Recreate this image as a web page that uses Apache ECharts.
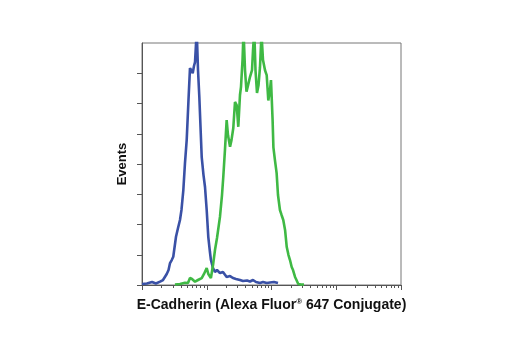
<!DOCTYPE html>
<html>
<head>
<meta charset="utf-8">
<script src="https://cdn.jsdelivr.net/npm/echarts@6/dist/echarts.min.js"></script>
<style>html,body{margin:0;padding:0;background:#fff}#c{width:520px;height:350px}</style>
</head>
<body>
<div id="c"></div>
<script>
// Fluorescence intensity (log axis) and event counts
const isotypeX = [1,1.19,1.43,1.64,1.90,2.11,2.41,2.57,2.71,2.88,3.04,3.35,3.60,3.86,4.07,4.35,4.61,4.90,5.22,5.51,5.77,6.07,6.35,6.59,7.0,7.33,7.68,8.36,8.91,9.40,9.98,10.57,11.2,11.6,12.5,13.4,14.4,16.0,17.8,20.3,22.9,25.4,28.3,32.6,36.3,41.9,46.5,51.8,57.6,66.4,73.9,84.3,94.8,109,126];
const isotypeY = [0.7,1.0,2.0,1.0,2.2,3.3,7.3,9.9,14.5,16.5,18.7,31.9,37.7,43,49.6,62.8,80.6,95.8,122,143.4,142,140,144.8,147.4,168,142,124.3,84.6,72.7,64.8,49.6,31.7,21.8,16.5,11.2,8.6,9.9,7.9,8.6,5.3,5.9,4.6,4.0,3.3,2.6,3.0,2.3,3.3,2.0,1.3,2.0,1.3,1.7,2.0,1.3];
const cadherinX = [3.23,3.86,4.61,5.13,5.51,5.92,6.59,7.33,8.36,9.07,9.98,10.57,11.6,12.5,13.4,14.4,16.0,17.2,18.0,19.1,20.3,21.3,22.9,24.1,25.7,27.3,29.0,30.7,32.6,33.8,35.7,37.0,39.0,41.1,43.4,46.5,50.0,51.8,54.2,56.6,59.7,63.0,66.4,70.1,73.9,79.4,84.3,89.3,94.8,98.2,104,107,113,120,126,135,143,152,162,172,183,193,205,215,231,243,259,286,318];
const cadherinY = [0.3,0.7,1.5,1.3,4.6,4.0,2.2,3.3,4.6,7.3,11.2,7.3,4.6,13.2,23.1,31.1,45,59.5,71.4,89.2,109,99,91.4,95.8,103.8,121,119,104.6,125.6,131,148.7,168,142,127.8,132,137.5,142,155,168,142,127,132,144,166,148.7,142,138.8,122,129,135.5,109,91,82.6,74,59.5,49.6,46.3,43,36.4,25.1,19.8,16.5,11.9,9.9,5.3,3.3,0.7,0.3,0.3];
const majorTicks = [1,10,100,1000,10000];
const minorTicks = [2,3,4,5,6,7,8,9,20,30,40,50,60,70,80,90,200,300,400,500,600,700,800,900,2000,3000,4000,5000,6000,7000,8000,9000];
const yTicks = [0,20,40,60,80,100,120,140];
const xTitle = 'E-Cadherin (Alexa Fluor{sup|®} 647 Conjugate)';
const yTitle = 'Events';

const pair = (xs, ys) => xs.map((x, i) => [x, ys[i]]);
const axisColor = '#555';
const font = '"Liberation Sans Narrow", "Liberation Sans", Arial, sans-serif';

const chart = echarts.init(document.getElementById('c'), null, {renderer: 'canvas'});
chart.setOption({
  animation: false,
  grid: {left: 142, top: 43, right: 119, bottom: 65, show: true, borderColor: '#777', borderWidth: 1},
  xAxis: [{
    type: 'log', logBase: 10, min: 1, max: 10000,
    axisLine: {show: true, lineStyle: {color: axisColor, width: 1}},
    axisTick: {show: true, inside: false, length: 5, customValues: majorTicks, lineStyle: {color: axisColor}},
    axisLabel: {show: false},
    splitLine: {show: false},
    name: xTitle, nameLocation: 'middle', nameGap: 13,
    nameTextStyle: {color: '#111', fontWeight: 'bold', fontSize: 14, fontFamily: font,
      rich: {sup: {fontSize: 8, fontWeight: 'bold', fontFamily: font, color: '#111', padding: [0,0,6,0]}}}
  }, {
    type: 'log', logBase: 10, min: 1, max: 10000, position: 'bottom',
    axisLine: {show: false},
    axisTick: {show: true, inside: false, length: 3, customValues: minorTicks, lineStyle: {color: axisColor}},
    axisLabel: {show: false},
    splitLine: {show: false}
  }],
  yAxis: {
    type: 'value', min: 0, max: 160, interval: 20,
    axisLine: {show: true, lineStyle: {color: axisColor, width: 1}},
    axisTick: {show: true, inside: false, length: 5, customValues: yTicks, lineStyle: {color: axisColor}},
    axisLabel: {show: false},
    splitLine: {show: false},
    name: yTitle, nameLocation: 'middle', nameGap: 13,
    nameTextStyle: {color: '#111', fontWeight: 'bold', fontSize: 13, fontFamily: font}
  },
  series: [{
    type: 'line', data: pair(isotypeX, isotypeY), showSymbol: false, clip: true,
    lineStyle: {color: '#3a51a6', width: 2.6}, itemStyle: {color: '#3a51a6'}
  }, {
    type: 'line', data: pair(cadherinX, cadherinY), showSymbol: false, clip: true,
    lineStyle: {color: '#3fb944', width: 2.6}, itemStyle: {color: '#3fb944'}
  }]
});
</script>
</body>
</html>
